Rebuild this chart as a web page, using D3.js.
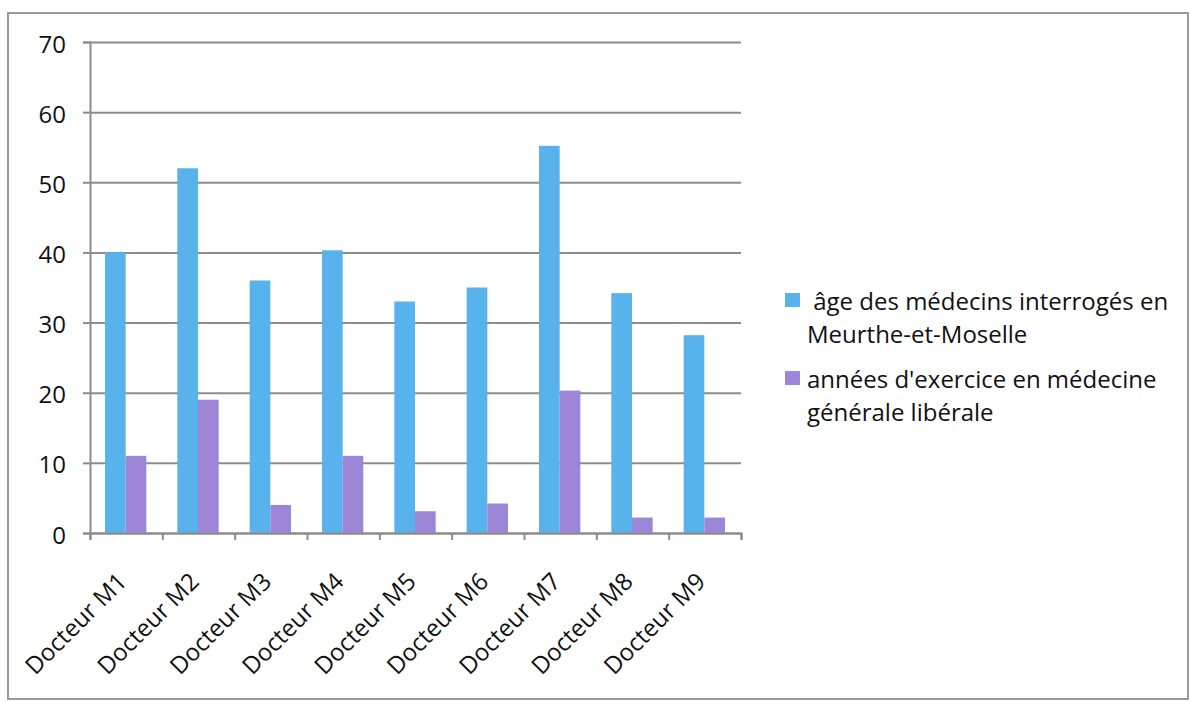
<!DOCTYPE html>
<html>
<head>
<meta charset="utf-8">
<script src="https://cdn.jsdelivr.net/npm/d3@7"></script>
<style>
  body { margin: 0; background: #fff; }
  text { font-family: "Open Sans", "Noto Sans", sans-serif; fill: #111; }
</style>
</head>
<body>
<div id="chart"></div>
<script>
// données
const categories = ["Docteur M1", "Docteur M2", "Docteur M3", "Docteur M4", "Docteur M5",
                    "Docteur M6", "Docteur M7", "Docteur M8", "Docteur M9"];
const ageValues = [40, 52, 36, 40.3, 33, 35, 55.2, 34.2, 28.2];
const anneesValues = [11, 19, 4, 11, 3.1, 4.2, 20.3, 2.2, 2.2];
const seriesNames = [" âge des médecins interrogés en|Meurthe-et-Moselle",
                     "années d'exercice en médecine|générale libérale"];
const seriesColors = ["#58b3ec", "#9d85d8"];
const yTicks = [0, 10, 20, 30, 40, 50, 60, 70];

const W = 1190, H = 702;
const plotLeft = 90, plotRight = 741, plotTop = 42, plotBottom = 533;

const svg = d3.select("#chart").append("svg")
    .attr("width", W)
    .attr("height", H);

// cadre extérieur
svg.append("rect")
    .attr("x", 8).attr("y", 13)
    .attr("width", 1180).attr("height", 686)
    .attr("fill", "#fff")
    .attr("stroke", "#9a9a9a")
    .attr("stroke-width", 2);

const x0 = d3.scaleBand()
    .domain(categories)
    .range([plotLeft, plotRight])
    .padding(0);

const x1 = d3.scaleBand()
    .domain([0, 1])
    .range([15, x0.bandwidth() - 16])
    .padding(0);

const y = d3.scaleLinear()
    .domain([0, 70])
    .range([plotBottom, plotTop]);

// quadrillage
svg.append("g")
    .attr("transform", `translate(${plotLeft},0)`)
    .call(d3.axisLeft(y).tickValues(yTicks).tickSize(-(plotRight - plotLeft)).tickFormat(""))
    .call(g => g.select(".domain").remove())
    .selectAll("line")
    .attr("stroke", "#8c8c8c")
    .attr("stroke-width", 2);

// axe Y
const yAxis = svg.append("g")
    .attr("transform", `translate(${plotLeft},0)`)
    .call(d3.axisLeft(y).tickValues(yTicks).tickSize(7).tickPadding(17));
yAxis.select(".domain").attr("stroke", "#8c8c8c").attr("stroke-width", 2);
yAxis.selectAll("line").attr("stroke", "#8c8c8c").attr("stroke-width", 2);
yAxis.selectAll("text")
    .style("font-size", "24px")
    .attr("dy", "0.42em");

// barres
const data = categories.map((c, i) => ({ cat: c, vals: [ageValues[i], anneesValues[i]] }));

const groups = svg.selectAll(".grp")
    .data(data)
    .enter().append("g")
    .attr("class", "grp")
    .attr("transform", d => `translate(${x0(d.cat)},0)`);

groups.selectAll("rect")
    .data(d => d.vals.map((v, k) => ({ k: k, v: v })))
    .enter().append("rect")
    .attr("x", d => x1(d.k))
    .attr("y", d => y(d.v))
    .attr("width", x1.bandwidth())
    .attr("height", d => y(0) - y(d.v))
    .attr("fill", d => seriesColors[d.k]);

// axe X (graduations entre les catégories)
const xTickScale = d3.scaleLinear().domain([0, categories.length]).range([plotLeft, plotRight]);
const xAxis = svg.append("g")
    .attr("transform", `translate(0,${plotBottom})`)
    .call(d3.axisBottom(xTickScale).ticks(categories.length).tickSize(7).tickFormat(""));
xAxis.select(".domain").attr("stroke", "#8c8c8c").attr("stroke-width", 2);
xAxis.selectAll("line").attr("stroke", "#8c8c8c").attr("stroke-width", 2);

// étiquettes inclinées
svg.append("g").selectAll("text")
    .data(categories)
    .enter().append("text")
    .attr("transform", d => `translate(${x0(d) + x0.bandwidth() / 2 + 2},583) rotate(-45)`)
    .attr("text-anchor", "end")
    .style("font-size", "24px")
    .text(d => d);

// légende
const legend = svg.append("g");
const legendY = [310, 388];
seriesNames.forEach((name, i) => {
    legend.append("rect")
        .attr("x", 785)
        .attr("y", legendY[i] - 17)
        .attr("width", 15)
        .attr("height", 14)
        .attr("fill", seriesColors[i]);
    const t = legend.append("text")
        .attr("x", 807)
        .attr("y", legendY[i])
        .style("font-size", "24px")
        .style("white-space", "pre");
    name.split("|").forEach((line, j) => {
        t.append("tspan")
            .attr("x", 807)
            .attr("dy", j === 0 ? 0 : 33)
            .text(line);
    });
});
</script>
</body>
</html>
